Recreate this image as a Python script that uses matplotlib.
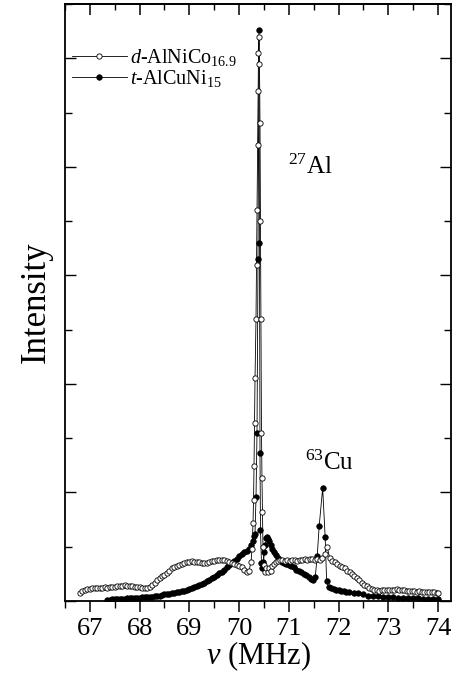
import matplotlib
matplotlib.use("Agg")
import matplotlib.pyplot as plt
from matplotlib.ticker import MultipleLocator, NullFormatter

plt.rcParams['font.family'] = ['Liberation Serif', 'DejaVu Serif']
plt.rcParams['mathtext.fontset'] = 'custom'
plt.rcParams['mathtext.rm'] = 'Liberation Serif'
plt.rcParams['mathtext.it'] = 'Liberation Serif:italic'

# d-AlNiCo16.9 (open circles)
freq_d = [66.80, 66.85, 66.90, 66.95, 67.00, 67.05, 67.10, 67.15, 67.20, 67.25,
          67.30, 67.35, 67.40, 67.45, 67.50, 67.55, 67.60, 67.65, 67.70, 67.75,
          67.80, 67.85, 67.90, 67.95, 68.00, 68.05, 68.10, 68.15, 68.20, 68.25,
          68.30, 68.35, 68.40, 68.45, 68.50, 68.55, 68.60, 68.65, 68.70, 68.75,
          68.80, 68.85, 68.90, 68.95, 69.00, 69.05, 69.10, 69.15, 69.20, 69.25,
          69.30, 69.35, 69.40, 69.45, 69.50, 69.55, 69.60, 69.65, 69.70, 69.75,
          69.80, 69.85, 69.90, 69.95, 70.00, 70.05, 70.10, 70.15, 70.20, 70.24,
          70.26, 70.28, 70.29, 70.30, 70.31, 70.32, 70.34, 70.35, 70.36, 70.37,
          70.38, 70.39, 70.40, 70.41, 70.42, 70.43, 70.44, 70.45, 70.46, 70.47,
          70.48, 70.50, 70.52, 70.55, 70.58, 70.61, 70.64, 70.67, 70.70, 70.74,
          70.78, 70.82, 70.87, 70.92, 70.97, 71.02, 71.07, 71.12, 71.17, 71.22,
          71.27, 71.32, 71.37, 71.42, 71.47, 71.52, 71.57, 71.62, 71.67, 71.72,
          71.77, 71.82, 71.87, 71.92, 71.97, 72.02, 72.07, 72.12, 72.17, 72.22,
          72.27, 72.32, 72.37, 72.42, 72.47, 72.52, 72.57, 72.62, 72.67, 72.72,
          72.77, 72.82, 72.87, 72.92, 72.97, 73.02, 73.07, 73.12, 73.17, 73.22,
          73.27, 73.32, 73.37, 73.42, 73.47, 73.52, 73.57, 73.62, 73.67, 73.72,
          73.77, 73.82, 73.87, 73.92, 73.97, 74.00]
int_d = [0.07, 0.09, 0.10, 0.11, 0.11, 0.12, 0.12, 0.12, 0.12, 0.12,
         0.13, 0.12, 0.13, 0.13, 0.13, 0.14, 0.14, 0.14, 0.15, 0.14,
         0.14, 0.14, 0.13, 0.13, 0.13, 0.12, 0.12, 0.12, 0.13, 0.15,
         0.17, 0.19, 0.21, 0.23, 0.24, 0.26, 0.28, 0.30, 0.31, 0.32,
         0.33, 0.34, 0.35, 0.36, 0.36, 0.37, 0.36, 0.36, 0.36, 0.35,
         0.35, 0.35, 0.36, 0.37, 0.37, 0.38, 0.38, 0.38, 0.38, 0.37,
         0.36, 0.35, 0.34, 0.33, 0.32, 0.31, 0.29, 0.27, 0.28, 0.36,
         0.48, 0.72, 0.93, 1.24, 1.64, 2.05, 2.60, 3.10, 3.60, 4.20,
         4.70, 5.05, 5.20, 4.95, 4.40, 3.50, 2.60, 1.55, 1.13, 0.82,
         0.50, 0.33, 0.27, 0.30, 0.27, 0.30, 0.28, 0.32, 0.34, 0.36,
         0.37, 0.38, 0.38, 0.37, 0.38, 0.37, 0.38, 0.38, 0.37, 0.38,
         0.38, 0.39, 0.38, 0.39, 0.39, 0.38, 0.39, 0.38, 0.40, 0.43,
         0.50, 0.40, 0.37, 0.36, 0.34, 0.32, 0.31, 0.30, 0.28, 0.27,
         0.25, 0.23, 0.21, 0.19, 0.17, 0.15, 0.14, 0.12, 0.11, 0.10,
         0.10, 0.09, 0.10, 0.10, 0.10, 0.10, 0.10, 0.10, 0.11, 0.10,
         0.10, 0.10, 0.09, 0.09, 0.09, 0.09, 0.08, 0.09, 0.08, 0.08,
         0.08, 0.08, 0.08, 0.08, 0.07, 0.07]

# t-AlCuNi15 (filled circles)
freq_t = [67.34, 67.40, 67.45, 67.50, 67.55, 67.60, 67.65, 67.70, 67.75, 67.80,
          67.85, 67.90, 67.95, 68.00, 68.05, 68.10, 68.15, 68.20, 68.25, 68.30,
          68.35, 68.40, 68.45, 68.50, 68.55, 68.60, 68.65, 68.70, 68.75, 68.80,
          68.85, 68.90, 68.95, 69.00, 69.05, 69.10, 69.15, 69.20, 69.25, 69.30,
          69.35, 69.40, 69.45, 69.50, 69.55, 69.60, 69.65, 69.70, 69.75, 69.80,
          69.85, 69.90, 69.95, 70.00, 70.05, 70.10, 70.15, 70.20, 70.24, 70.27,
          70.30, 70.32, 70.34, 70.36, 70.38, 70.40, 70.41, 70.42, 70.43, 70.45,
          70.47, 70.49, 70.51, 70.53, 70.55, 70.57, 70.59, 70.61, 70.64, 70.67,
          70.70, 70.74, 70.78, 70.82, 70.86, 70.90, 70.95, 71.00, 71.05, 71.10,
          71.15, 71.20, 71.25, 71.30, 71.35, 71.40, 71.45, 71.49, 71.53, 71.57,
          71.61, 71.68, 71.73, 71.76, 71.80, 71.85, 71.90, 71.95, 72.00, 72.05,
          72.10, 72.15, 72.20, 72.30, 72.40, 72.50, 72.60, 72.70, 72.80, 72.90,
          73.00, 73.10, 73.20, 73.30, 73.40, 73.50, 73.60, 73.70, 73.80, 73.90,
          74.00]
int_t = [0.01, 0.01, 0.015, 0.015, 0.02, 0.02, 0.02, 0.02, 0.025, 0.025,
         0.03, 0.03, 0.03, 0.03, 0.035, 0.035, 0.04, 0.04, 0.04, 0.045,
         0.05, 0.05, 0.055, 0.06, 0.06, 0.065, 0.07, 0.075, 0.08, 0.085,
         0.09, 0.095, 0.10, 0.11, 0.12, 0.13, 0.14, 0.15, 0.16, 0.17,
         0.18, 0.195, 0.21, 0.225, 0.24, 0.255, 0.27, 0.29, 0.31, 0.33,
         0.35, 0.37, 0.39, 0.41, 0.43, 0.45, 0.46, 0.48, 0.52, 0.55,
         0.60, 0.62, 0.96, 1.55, 3.15, 5.26, 3.30, 1.36, 0.65, 0.35,
         0.30, 0.36, 0.45, 0.52, 0.58, 0.59, 0.57, 0.55, 0.52, 0.48,
         0.45, 0.42, 0.40, 0.38, 0.36, 0.35, 0.34, 0.33, 0.32, 0.31,
         0.29, 0.28, 0.27, 0.25, 0.24, 0.22, 0.20, 0.19, 0.22, 0.41,
         0.69, 1.04, 0.59, 0.18, 0.13, 0.12, 0.11, 0.10, 0.10, 0.09,
         0.09, 0.08, 0.08, 0.07, 0.07, 0.06, 0.05, 0.05, 0.045, 0.04,
         0.04, 0.035, 0.03, 0.03, 0.03, 0.025, 0.025, 0.02, 0.02, 0.02,
         0.02]

fig = plt.figure(figsize=(4.54, 6.79), dpi=100)
ax = fig.add_axes([65 / 454, 78 / 679, 386 / 454, 597 / 679])

ax.plot(freq_t, int_t, '-', color='black', lw=0.6, marker='o', ms=4.0,
        mfc='black', mec='black', mew=0.5, label='$\\mathit{t}$-AlCuNi$_{15}$')
ax.plot(freq_d, int_d, '-', color='black', lw=0.6, marker='o', ms=3.8,
        mfc='white', mec='black', mew=0.6, label='$\\mathit{d}$-AlNiCo$_{16.9}$')

ax.set_xlim(66.5, 74.26)
ax.set_ylim(0, 5.5)

ax.xaxis.set_major_locator(MultipleLocator(1))
ax.xaxis.set_minor_locator(MultipleLocator(0.5))
ax.yaxis.set_major_locator(MultipleLocator(1))
ax.yaxis.set_minor_locator(MultipleLocator(0.5))
ax.yaxis.set_major_formatter(NullFormatter())

ax.tick_params(axis='x', which='both', direction='out', top=False, labelsize=19, pad=4)
ax.tick_params(axis='x', which='major', length=8, width=1.1)
ax.tick_params(axis='x', which='minor', length=5, width=1.0)
ax.tick_params(axis='y', which='both', direction='in', left=True, right=True)
ax.tick_params(axis='y', which='major', length=8, width=1.0)
ax.tick_params(axis='y', which='minor', length=5, width=1.0)

top = ax.secondary_xaxis('top')
top.xaxis.set_major_locator(MultipleLocator(1))
top.xaxis.set_minor_locator(MultipleLocator(0.5))
top.tick_params(axis='x', which='both', direction='in', labeltop=False)
top.tick_params(axis='x', which='major', length=8, width=1.1)
top.tick_params(axis='x', which='minor', length=4, width=1.0)
top.spines['top'].set_linewidth(1.3)

for s in ax.spines.values():
    s.set_linewidth(1.3)

ax.set_xlabel('$\\mathit{\\nu}$ (MHz)', fontsize=22, labelpad=0)
ax.set_ylabel('Intensity', fontsize=25, labelpad=5)

ax.text(70.98, 3.93, '$^{27}$Al', fontsize=18, ha='left', va='baseline')
ax.text(71.33, 1.21, '$^{63}$Cu', fontsize=18, ha='left', va='baseline')

handles, labels = ax.get_legend_handles_labels()
ax.legend(handles[::-1], labels[::-1], loc='upper left', bbox_to_anchor=(-0.018, 0.952),
          frameon=False, fontsize=14.5, numpoints=1, handlelength=2.7,
          handletextpad=0.15, labelspacing=0.0, borderaxespad=0.3)

fig.savefig('out.png', dpi=100)
